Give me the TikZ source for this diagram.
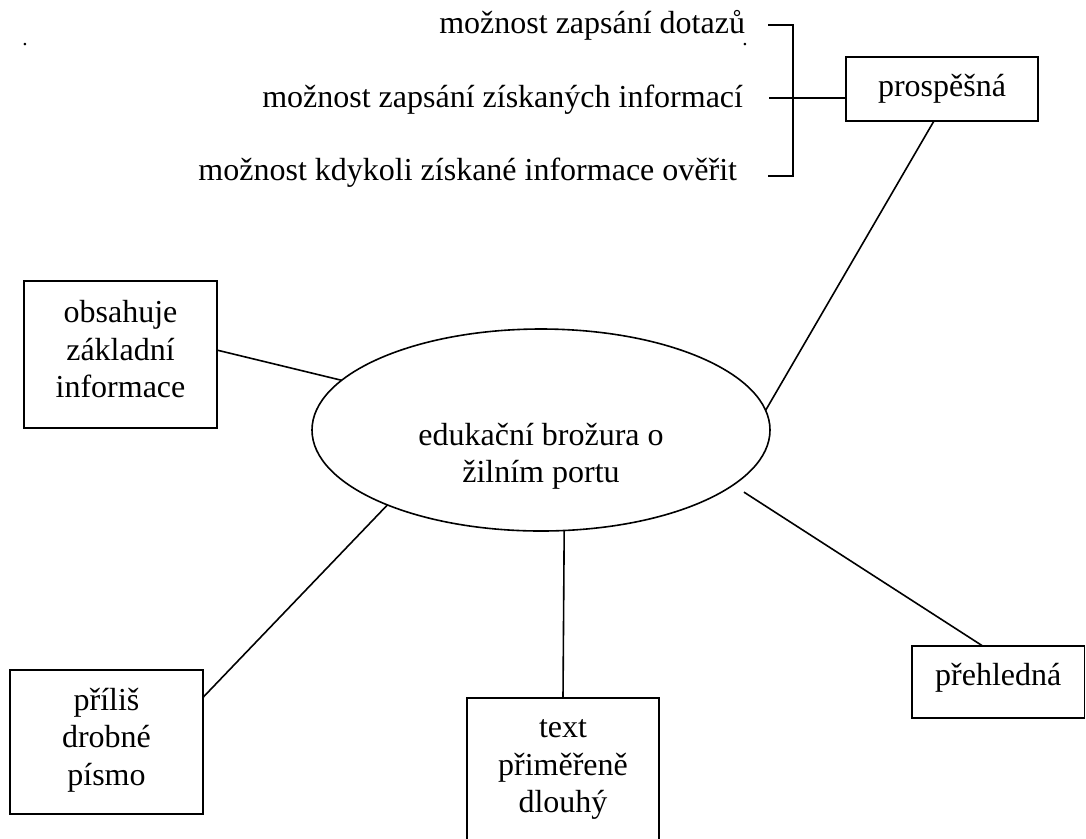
\documentclass[tikz,border=0pt]{standalone}
\usepackage{fontspec}
\setmainfont{Liberation Serif}
\usetikzlibrary{calc,shapes.geometric}
\newcommand{\mapfont}{\fontsize{12}{14}\selectfont}

\begin{document}
\begin{tikzpicture}[x=0.375pt, y=-0.375pt,
  box/.style={draw, line width=0.6pt, align=center, font=\mapfont,
              inner sep=0pt, outer sep=0pt, text depth=4pt},
  hubshape/.style={draw, ellipse, line width=0.6pt, inner sep=0pt, outer sep=0pt,
              minimum width=171.75pt, minimum height=75.75pt},
  lab/.style={font=\mapfont, inner sep=0pt, outer sep=0pt},
  ln/.style={line width=0.6pt}]
\useasboundingbox (0,0) rectangle (1086,838);
\clip (0,0) rectangle (1086,838);

\node[hubshape] (hub) at (541,430) {};
\node[lab, align=center] (hubtxt) at ($(hub.center)+(0,26.5)$) {edukační brožura o\\žilním portu};

\node[box, minimum width=72.4pt, minimum height=55.1pt] (obs) at (120.5,354.5) {obsahuje\\základní\\informace};
\node[box, minimum width=72.4pt, minimum height=54pt] (pri) at (106.5,742) {příliš\\drobné\\písmo};
\node[box, minimum width=72pt, minimum height=55.1pt] (txt) at (563,771.5) {text\\přiměřeně\\dlouhý};
\node[box, minimum width=64.7pt, minimum height=27pt, text depth=6pt] (pre) at (998.25,682) {přehledná};
\node[box, minimum width=72pt, minimum height=24pt, text depth=2.6pt] (pro) at (942,89) {prospěšná};

\node[lab, anchor=base east] (q1) at (745,33) {možnost zapsání dotazů};
\node[lab, anchor=base east] (q2) at (743,107) {možnost zapsání získaných informací};
\node[lab, anchor=base east] (q3) at (737,180) {možnost kdykoli získané informace ověřit};
\node[lab, font=\fontsize{8}{9}\selectfont, anchor=base] (dotl) at (25,45) {.};
\node[lab, font=\fontsize{8}{9}\selectfont, anchor=base] (dotr) at (745,45) {.};

\coordinate (b1) at (768,25);
\coordinate (b2) at (769,98);
\coordinate (b3) at (768,176);
\coordinate (bt) at (793,25);
\coordinate (bb) at (793,176);
\draw[ln] (b1) -- (bt) -- (bb) -- (b3);
\draw[ln] (b2) -- (b2 -| pro.west);

\draw[ln] ($(obs.north east)!0.47!(obs.south east)$) -- (hub.166);
\draw[ln] (hub.5) -- ($(pro.south west)!0.458!(pro.south east)$);
\draw[ln] (hub.206) -- ($(pri.north east)!0.19!(pri.south east)$);
\draw[ln] (hub.-77) -- (txt.north);
\draw[ln, shorten <=4.9pt] (hub.-16) -- ($(pre.north west)!0.41!(pre.north east)$);
\end{tikzpicture}
\end{document}
